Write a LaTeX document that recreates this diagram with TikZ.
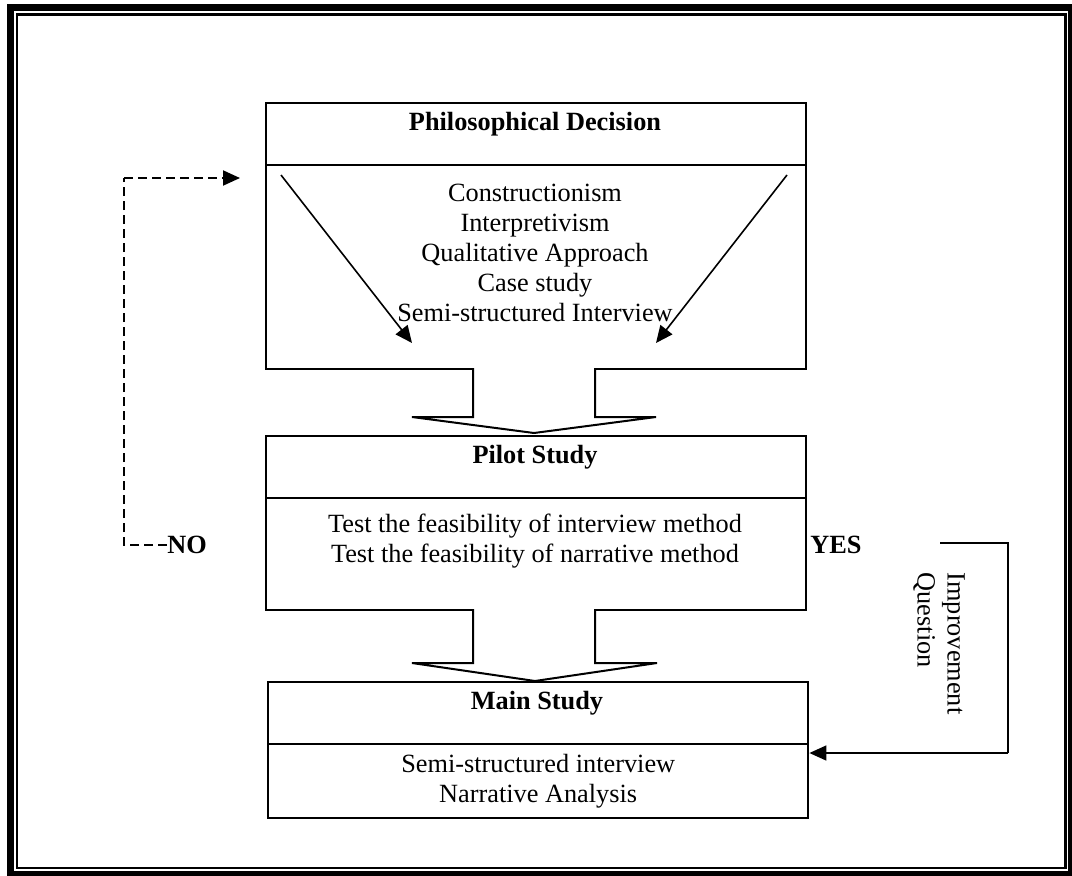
\documentclass[tikz,border=0pt]{standalone}
\usepackage{fontspec}
\setmainfont{Liberation Serif}
\usetikzlibrary{arrows.meta}
\begin{document}
\begin{tikzpicture}[x=1pt,y=-1pt,
  every node/.style={font=\fontsize{26.3}{30}\selectfont, inner sep=0pt},
  box/.style={draw, line width=2.4pt, minimum width=540pt, anchor=north west},
  title/.style={anchor=base, font=\fontsize{26.3}{30}\selectfont\bfseries},
  conn/.style={line width=1.6pt},
  tip/.style={-{Triangle[length=17pt,width=15pt]}},
  barrow/.style={draw, fill=white, line width=2pt, line join=miter},
  dconn/.style={line width=2pt, dash pattern=on 9pt off 5pt}]
\useasboundingbox (0,0) rectangle (1072,876);
% double page frame
\draw[line width=7pt] (10.5,7.5) rectangle (1071,874);
\draw[line width=2.4pt] (17,14.5) rectangle (1065.5,868);

% philosophical decision
\node[box, minimum height=62pt] (philhead) at (265,102) {};
\node[title] (philtitle) at (535,130) {Philosophical Decision};
\node[box, minimum height=204pt] (philbody) at (265,164) {};
\node[align=center] (philtext) at (535,253)
  {Constructionism\\Interpretivism\\Qualitative Approach\\Case study\\Semi-structured Interview};
\coordinate (dla) at (281,175);
\coordinate (dlb) at (412,343);
\coordinate (dra) at (787,175);
\coordinate (drb) at (656,343);
\draw[conn,tip] (dla) -- (dlb);
\draw[conn,tip] (dra) -- (drb);

% block arrow into pilot study
\draw[barrow] (473,368) -- (473,417) -- (412,417) -- (534,433) -- (656,417) -- (595,417) -- (595,368);

% pilot study
\node[box, minimum height=62pt] (pilothead) at (265,435) {};
\node[title] (pilottitle) at (535,463) {Pilot Study};
\node[box, minimum height=112pt] (pilotbody) at (265,497) {};
\node[align=center] (pilottext) at (535,541)
  {Test the feasibility of interview method\\Test the feasibility of narrative method};

% block arrow into main study
\draw[barrow] (473,609) -- (473,663) -- (412,663) -- (535,681) -- (657,663) -- (595,663) -- (595,609);

% main study
\node[box, minimum height=62pt] (mainhead) at (267,681) {};
\node[title] (maintitle) at (537,709) {Main Study};
\node[box, minimum height=74pt, align=center] (mainbody) at (267,743)
  {Semi-structured interview\\Narrative Analysis};

% NO: back to the philosophical decision
\node (no) at (187,545) {\textbf{NO}};
\coordinate (nocorner) at (124,178);
\coordinate (notip) at (240,178);
\draw[dconn] (no.west) -| (nocorner);
\draw[dconn,tip] (nocorner) -- (notip);

% YES: improvement question into the main study
\node (yes) at (836,545) {\textbf{YES}};
\coordinate (yesstart) at (940,543);
\coordinate (yescorner) at (1008,753);
\draw[conn] (yesstart) -| (yescorner);
\draw[conn,tip] (yescorner) -- (yescorner -| mainbody.east);
\node[rotate=-90, align=left] (improve) at (939,643.5) {Improvement\\Question};
\end{tikzpicture}
\end{document}
